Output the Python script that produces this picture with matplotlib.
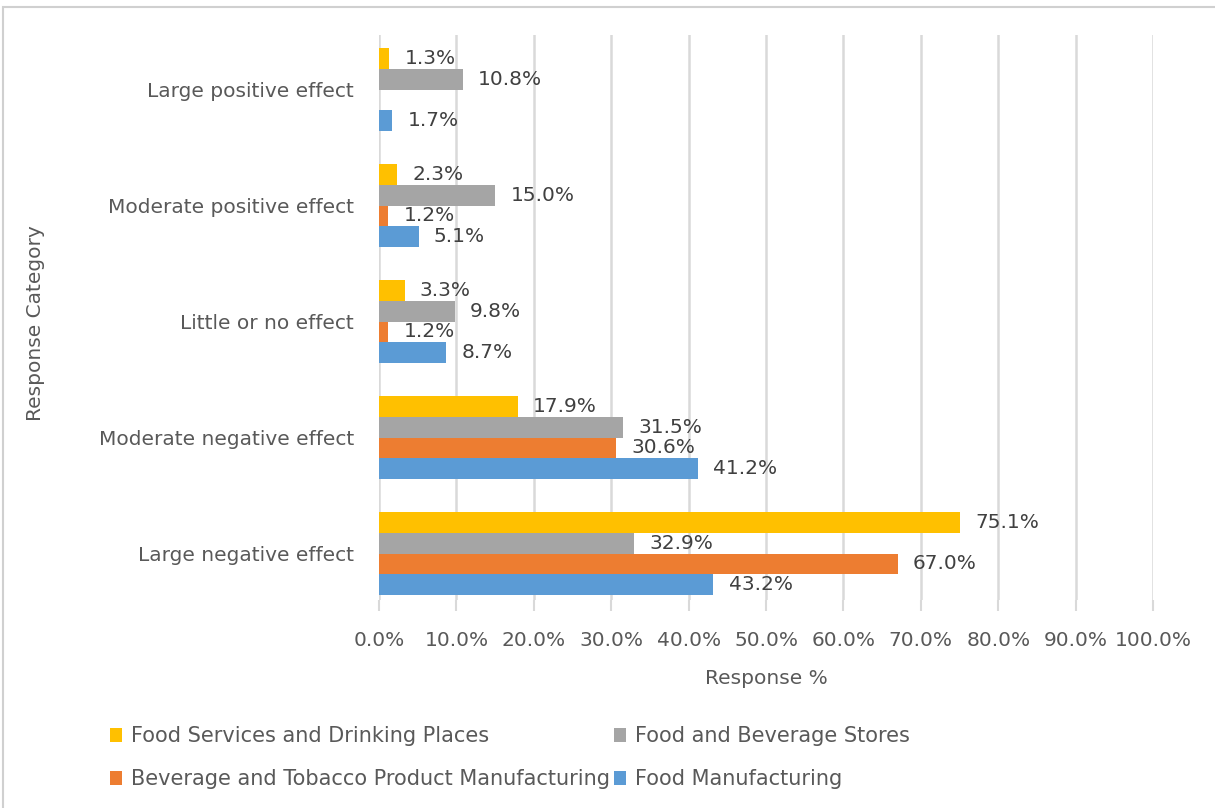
import numpy as np
import matplotlib.pyplot as plt
from matplotlib.patches import Rectangle

categories = ['Large negative effect', 'Moderate negative effect', 'Little or no effect',
              'Moderate positive effect', 'Large positive effect']
food_manufacturing = [43.2, 41.2, 8.7, 5.1, 1.7]
beverage_tobacco = [67.0, 30.6, 1.2, 1.2, np.nan]
food_bev_stores = [32.9, 31.5, 9.8, 15.0, 10.8]
food_services = [75.1, 17.9, 3.3, 2.3, 1.3]

series = [
    ('Food Manufacturing', food_manufacturing, '#5B9BD5'),
    ('Beverage and Tobacco Product Manufacturing', beverage_tobacco, '#ED7D31'),
    ('Food and Beverage Stores', food_bev_stores, '#A5A5A5'),
    ('Food Services and Drinking Places', food_services, '#FFC000'),
]

txt = '#595959'
fs = 14.5
plt.rcParams['font.family'] = ['DejaVu Sans']

fig = plt.figure(figsize=(12.15, 8.08), dpi=100)
ax = fig.add_axes([0.312, 0.2574, 0.637, 0.6993])

y = np.arange(len(categories))
h = 0.179
handles = {}
for i, (name, vals, col) in enumerate(series):
    off = (i - 1.5) * h
    bars = ax.barh(y + off, vals, height=h, color=col, label=name, zorder=3)
    handles[name] = bars
    labels = ['' if np.isnan(v) else f'{v:.1f}%' for v in vals]
    ax.bar_label(bars, labels=labels, padding=11, fontsize=fs, color='#404040')

ax.set_xlim(0, 100)
ax.set_ylim(-0.4, 4.47)
ax.set_xticks(np.arange(0, 101, 10))
ax.set_xticklabels([f'{v:.1f}%' for v in range(0, 101, 10)], fontsize=fs, color=txt)
ax.set_yticks(y)
ax.set_yticklabels(categories, fontsize=fs, color=txt)
ax.tick_params(axis='y', length=0, pad=18)
ax.tick_params(axis='x', length=8, color='#d9d9d9', width=1.5, pad=14)
ax.grid(axis='x', color='#d9d9d9', linewidth=1.8, zorder=0)
for s in ax.spines.values():
    s.set_visible(False)

ax.set_xlabel('Response %', fontsize=fs, color=txt, labelpad=14)
fig.text(0.029, 0.6, 'Response Category', rotation=90, fontsize=fs, color=txt,
         ha='center', va='center')

order = ['Food Services and Drinking Places', 'Beverage and Tobacco Product Manufacturing',
         'Food and Beverage Stores', 'Food Manufacturing']
fig.legend([handles[n] for n in order], order, ncol=2, loc='lower left',
           bbox_to_anchor=(0.075, 0.0), frameon=False, fontsize=15,
           labelcolor=txt, handlelength=0.6, handleheight=0.6,
           handletextpad=0.4, columnspacing=0.2, labelspacing=1.1)

fig.patches.append(Rectangle((3 / 1215, -0.1), 1.2, 1.1 - 7 / 808,
                             transform=fig.transFigure, fill=False,
                             edgecolor='#d0d0d0', linewidth=1.5))

fig.savefig('out.png', dpi=100)
